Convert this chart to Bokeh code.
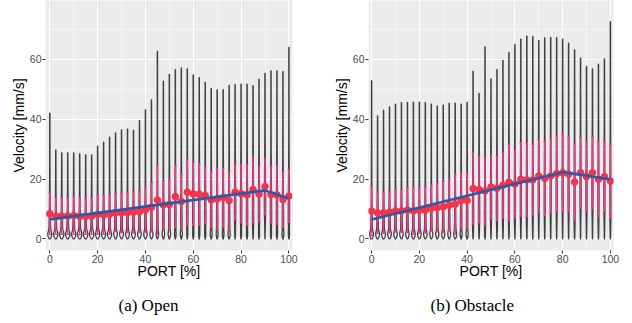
import math
import numpy as np
from bokeh.plotting import figure
from bokeh.models import Title, SingleIntervalTicker, Range1d
from bokeh.layouts import row
from bokeh.embed import file_html
from bokeh.resources import INLINE

# ---------------- data ----------------
port = [0, 2.5, 5, 7.5, 10, 12.5, 15, 17.5, 20, 22.5, 25, 27.5, 30, 32.5, 35, 37.5, 40,
        42.5, 45, 47.5, 50, 52.5, 55, 57.5, 60, 62.5, 65, 67.5, 70, 72.5, 75, 77.5, 80,
        82.5, 85, 87.5, 90, 92.5, 95, 97.5, 100]

open_max = [42.0, 29.7, 28.7, 28.7, 28.7, 28.4, 28.1, 28.1, 31.0, 32.3, 34.0, 35.4, 36.4,
            36.7, 36.3, 39.5, 43.1, 46.5, 62.7, 52.7, 55.0, 56.6, 57.2, 56.8, 54.8, 53.9,
            52.3, 50.2, 49.8, 49.9, 51.3, 51.6, 51.7, 51.7, 51.2, 53.3, 55.3, 56.2, 56.2,
            55.9, 64.0]
open_mean = [8.4, 7.6, 7.6, 7.6, 7.8, 7.5, 7.5, 7.6, 8.2, 8.0, 8.2, 8.7, 8.7, 8.7, 8.9,
             9.1, 9.7, 10.6, 13.0, 11.4, 11.5, 14.1, 12.5, 15.6, 15.0, 14.9, 14.5, 13.0,
             13.3, 13.8, 12.8, 15.6, 15.1, 14.7, 16.5, 15.0, 17.5, 14.8, 14.7, 13.1, 14.3]
open_sd = [7.0, 6.1, 6.1, 6.1, 6.3, 6.2, 6.0, 6.1, 6.6, 6.5, 6.6, 6.3, 6.6, 6.7, 7.0, 7.0,
           7.6, 8.3, 11.6, 8.1, 8.2, 10.4, 9.0, 11.1, 10.5, 10.3, 9.4, 9.3, 10.2, 9.8, 9.8,
           9.3, 9.7, 10.0, 11.1, 9.3, 9.4, 9.5, 9.9, 9.3, 8.8]
open_fit_x = [0, 90, 100]
open_fit_y = [6.5, 16.2, 13.5]

obst_max = [52.8, 41.1, 43.0, 44.1, 45.0, 45.5, 45.6, 45.7, 45.7, 45.5, 45.0, 44.4, 44.7,
            45.3, 45.4, 45.0, 45.6, 56.0, 48.6, 64.2, 53.5, 56.6, 59.7, 62.3, 65.0, 66.8,
            67.8, 67.6, 66.3, 67.2, 67.4, 67.3, 66.8, 65.4, 63.2, 60.4, 57.7, 56.8, 58.4,
            60.2, 72.6]
obst_mean = [9.3, 8.7, 8.7, 8.9, 9.3, 9.3, 9.6, 9.3, 9.6, 9.6, 10.2, 10.4, 10.7, 11.2,
             11.6, 12.8, 12.8, 16.8, 16.5, 16.0, 17.3, 16.9, 17.9, 18.9, 18.3, 19.9, 19.7,
             19.7, 21.0, 20.2, 21.0, 21.8, 22.1, 21.6, 19.0, 22.1, 20.8, 22.1, 19.9, 20.8,
             19.3]
obst_sd = [8.2, 6.9, 6.9, 6.9, 7.1, 7.1, 7.5, 7.8, 7.7, 7.7, 7.7, 8.1, 8.6, 8.5, 10.0,
           9.3, 9.3, 11.9, 11.1, 11.4, 10.6, 10.7, 11.0, 12.7, 11.4, 12.3, 12.3, 11.9, 12.1,
           12.3, 12.4, 12.6, 12.9, 12.5, 12.8, 11.8, 11.7, 12.0, 12.6, 11.7, 12.3]
obst_fit_x = [0, 80, 100]
obst_fit_y = [6.5, 22.3, 19.9]

x_ticks_interval = 20
y_ticks_interval = 20

# ---------------- styling ----------------
PANEL_BG = "#EBEBEB"
VIOLIN_LINE = "#404040"
ERR_COLOR = "#EE3A8C"
DOT_COLOR = "#F5334A"
FIT_COLOR = "#2C5AA8"
SANS = "Liberation Sans"
SERIF = "Liberation Serif"


def violin_outline(x0, mean, sd, top, scale=4.4, n=120):
    """Violin outline from an approximate density (near-zero spike + gamma body)."""
    y = np.linspace(0.0, top, n)
    k = (mean / sd) ** 2
    th = sd * sd / mean
    yy = np.maximum(y, 1e-6)
    logpdf = (k - 1) * np.log(yy) - yy / th - math.lgamma(k) - k * math.log(th)
    gam = np.exp(logpdf)
    a = float(np.clip(0.55 - mean / 30.0, 0.0, 0.4))
    spike = np.exp(-0.5 * ((y - 1.5) / 0.9) ** 2) / (0.9 * math.sqrt(2 * math.pi))
    dens = a * spike + (1 - a) * gam
    half = scale * dens + 0.05
    xs = np.concatenate([x0 - half, (x0 + half)[::-1]])
    ys = np.concatenate([y, y[::-1]])
    return xs.tolist(), ys.tolist()


def make_panel(caption, maxv, mean, sd, fit_x, fit_y, x_range, border_left, frame_width,
               border_right, cap_offset):
    p = figure(frame_width=frame_width, frame_height=250,
               x_range=Range1d(*x_range), y_range=Range1d(-3.9, 79.7),
               min_border_left=border_left, min_border_right=border_right,
               min_border_top=0, min_border_bottom=73,
               output_backend="svg", toolbar_location=None)
    p.background_fill_color = PANEL_BG
    p.border_fill_color = "white"
    p.outline_line_color = None

    # violins
    vx, vy = [], []
    for x0, m, s, t in zip(port, mean, sd, maxv):
        a, b = violin_outline(x0, m, s, t)
        vx.append(a)
        vy.append(b)
    p.patches(vx, vy, fill_color="white", line_color=VIOLIN_LINE, line_width=1.3,
              line_join="round")

    # error bars (mean +/- sd)
    lo = [m - s for m, s in zip(mean, sd)]
    hi = [m + s for m, s in zip(mean, sd)]
    p.segment(x0=port, y0=lo, x1=port, y1=hi, line_color=ERR_COLOR, line_width=1.5)
    cap_l = [x - 0.55 for x in port]
    cap_r = [x + 0.55 for x in port]
    p.segment(x0=cap_l, y0=hi, x1=cap_r, y1=hi, line_color=ERR_COLOR, line_width=1.2)
    p.segment(x0=cap_l, y0=lo, x1=cap_r, y1=lo, line_color=ERR_COLOR, line_width=1.2)

    # means
    p.scatter(port, mean, size=6.6, fill_color=DOT_COLOR, line_color=DOT_COLOR)

    # fitted piecewise regression
    p.line(fit_x, fit_y, line_color=FIT_COLOR, line_width=2.6)

    # axes
    p.xaxis.ticker = SingleIntervalTicker(interval=x_ticks_interval, num_minor_ticks=2)
    p.yaxis.ticker = SingleIntervalTicker(interval=y_ticks_interval, num_minor_ticks=2)
    p.xaxis.axis_label = "PORT [%]"
    p.yaxis.axis_label = "Velocity [mm/s]"
    for ax in (p.xaxis[0], p.yaxis[0]):
        ax.axis_line_color = None
        ax.major_tick_line_color = "#333333"
        ax.major_tick_out = 3
        ax.major_tick_in = 0
        ax.minor_tick_out = 0
        ax.minor_tick_in = 0
        ax.major_label_text_font = SANS
        ax.major_label_text_font_size = "10.5px"
        ax.major_label_text_color = "#4D4D4D"
        ax.major_label_standoff = 1
        ax.axis_label_text_font = SANS
        ax.axis_label_text_font_size = "14px"
        ax.axis_label_text_font_style = "normal"
        ax.axis_label_text_color = "black"
    p.xaxis.axis_label_standoff = -3
    p.yaxis.axis_label_standoff = 0

    for g in (p.xgrid[0], p.ygrid[0]):
        g.grid_line_color = "white"
        g.grid_line_width = 1.1
        g.minor_grid_line_color = "white"
        g.minor_grid_line_width = 0.5

    t = Title(text=caption, align="left", offset=cap_offset, text_font=SERIF,
              text_font_size="17px", text_font_style="normal", text_color="black",
              standoff=25)
    p.add_layout(t, "below")
    return p


p1 = make_panel("(a) Open", open_max, open_mean, open_sd, open_fit_x, open_fit_y,
                (-1.8, 101.5), 45, 247, 24, 73)
p2 = make_panel("(b) Obstacle", obst_max, obst_mean, obst_sd, obst_fit_x, obst_fit_y,
                (-1.3, 101.3), 52, 245, 19, 62)

layout = row(p1, p2)
open("out.html", "w").write(file_html(layout, INLINE))
